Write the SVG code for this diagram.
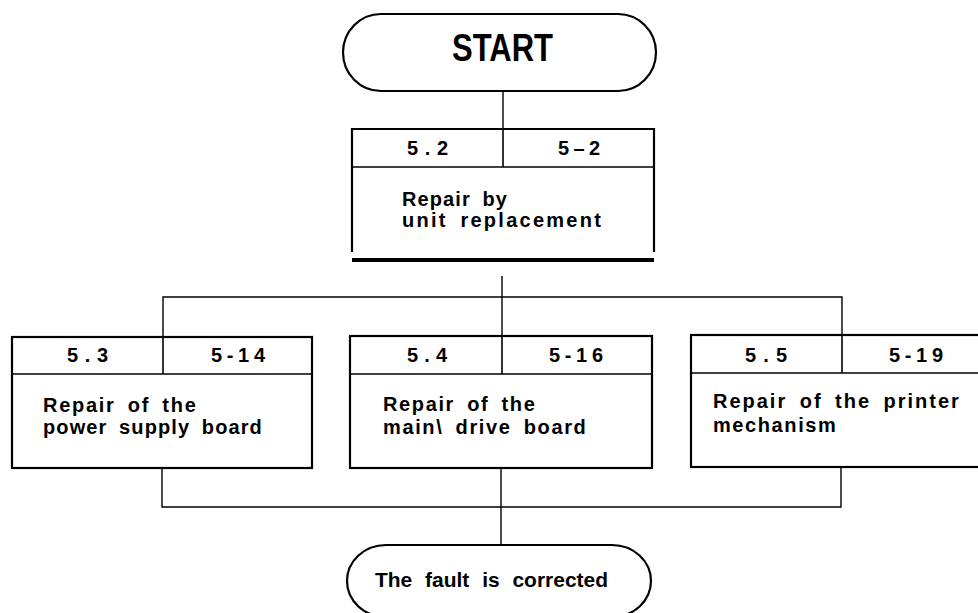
<svg xmlns="http://www.w3.org/2000/svg" width="978" height="613" viewBox="0 0 978 613">
  <style>
    .box { fill: none; stroke: #000; stroke-width: 2.2; }
    .div { fill: none; stroke: #000; stroke-width: 1.6; }
    .wire { fill: none; stroke: #000; stroke-width: 1.4; }
    .t { font-family: "Liberation Sans", Arial, sans-serif; font-weight: bold; fill: #000; }
    .hd { font-size: 20px; }
    .bd { font-size: 20px; letter-spacing: 1.2px; word-spacing: 5px; }
  </style>
  <rect width="978" height="613" fill="#fff"/>

  <!-- connectors -->
  <g id="connectors">
    <line class="wire" x1="503" y1="91" x2="503" y2="129"/>
    <line class="wire" x1="502" y1="276" x2="502" y2="336"/>
    <polyline class="wire" points="163,337 163,297 842,297 842,335"/>
    <polyline class="wire" points="162,468 162,507 841,507 841,467"/>
    <line class="wire" x1="501" y1="468" x2="501" y2="545"/>
  </g>

  <!-- start terminal -->
  <g id="start">
    <path class="box" d="M381 14 H618 A38 38.5 0 0 1 618 91 H381 A38 38.5 0 0 1 381 14 Z"/>
    <text class="t" x="452" y="61" font-size="38" textLength="101" lengthAdjust="spacingAndGlyphs">START</text>
  </g>

  <!-- 5.2 unit replacement -->
  <g id="n52">
    <polyline class="box" points="352,252 352,129 654,129 654,252"/>
    <line class="div" x1="352" y1="167" x2="654" y2="167"/>
    <line class="div" x1="503" y1="129" x2="503" y2="167"/>
    <line x1="352" y1="260" x2="654" y2="260" stroke="#000" stroke-width="4"/>
    <text class="t hd" x="407" y="155" textLength="41" lengthAdjust="spacing">5.2</text>
    <text class="t hd" x="558" y="155" textLength="42" lengthAdjust="spacing">5–2</text>
    <text class="t bd" x="402" y="206" textLength="106" lengthAdjust="spacing">Repair by</text>
    <text class="t bd" x="402" y="227" textLength="200" lengthAdjust="spacing">unit replacement</text>
  </g>

  <!-- 5.3 power supply board -->
  <g id="n53">
    <rect class="box" x="12" y="337" width="300" height="131"/>
    <line class="div" x1="12" y1="374" x2="312" y2="374"/>
    <line class="div" x1="163" y1="337" x2="163" y2="374"/>
    <text class="t hd" x="67" y="362" textLength="41" lengthAdjust="spacing">5.3</text>
    <text class="t hd" x="211" y="362" textLength="54" lengthAdjust="spacing">5-14</text>
    <text class="t bd" x="43" y="412" textLength="154" lengthAdjust="spacing">Repair of the</text>
    <text class="t bd" x="43" y="434" textLength="220" lengthAdjust="spacing">power supply board</text>
  </g>

  <!-- 5.4 main drive board -->
  <g id="n54">
    <rect class="box" x="350" y="336" width="302" height="132"/>
    <line class="div" x1="350" y1="374" x2="652" y2="374"/>
    <line class="div" x1="502" y1="336" x2="502" y2="374"/>
    <text class="t hd" x="407" y="362" textLength="40" lengthAdjust="spacing">5.4</text>
    <text class="t hd" x="549" y="362" textLength="54" lengthAdjust="spacing">5-16</text>
    <text class="t bd" x="383" y="411" textLength="153" lengthAdjust="spacing">Repair of the</text>
    <text class="t bd" x="383" y="434" textLength="204" lengthAdjust="spacing">main\ drive board</text>
  </g>

  <!-- 5.5 printer mechanism -->
  <g id="n55">
    <rect class="box" x="691" y="335" width="300" height="132"/>
    <line class="div" x1="691" y1="373" x2="991" y2="373"/>
    <line class="div" x1="842" y1="335" x2="842" y2="373"/>
    <text class="t hd" x="745" y="362" textLength="42" lengthAdjust="spacing">5.5</text>
    <text class="t hd" x="889" y="362" textLength="54" lengthAdjust="spacing">5-19</text>
    <text class="t bd" x="713" y="408" textLength="247" lengthAdjust="spacing">Repair of the printer</text>
    <text class="t bd" x="713" y="432" textLength="124" lengthAdjust="spacing">mechanism</text>
  </g>

  <!-- end terminal -->
  <g id="end">
    <path class="box" d="M386 545 H612 A39 36 0 0 1 612 617 H386 A39 36 0 0 1 386 545 Z"/>
    <text class="t" x="375" y="587" font-size="21" word-spacing="7" textLength="233" lengthAdjust="spacingAndGlyphs">The fault is corrected</text>
  </g>
</svg>
